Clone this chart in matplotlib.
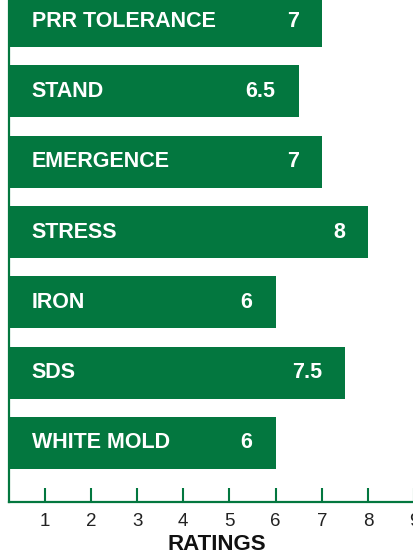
import matplotlib.pyplot as plt

# Ratings data (top to bottom as shown)
traits = ["PRR TOLERANCE", "STAND", "EMERGENCE", "STRESS", "IRON", "SDS", "WHITE MOLD"]
ratings = [7, 6.5, 7, 8, 6, 7.5, 6]
value_labels = ["7", "6.5", "7", "8", "6", "7.5", "6"]
ticks = [1, 2, 3, 4, 5, 6, 7, 8, 9]

green = "#03773F"
plt.rcParams['font.family'] = ['Liberation Sans', 'DejaVu Sans']

fig = plt.figure(figsize=(4.14, 5.54), dpi=100)
ax = fig.add_axes([9 / 414, 52 / 554, 1.001, 502 / 554])

# bottom bar is y=0
ypos = list(range(len(traits)))[::-1]
ax.barh(ypos, ratings, height=0.74, color=green, left=0)

for y, name, val, lab in zip(ypos, traits, ratings, value_labels):
    ax.text(0.72, y, name, color="white", fontsize=15.5, fontweight="bold",
            va="center", ha="left")
    ax.text(val - 0.5, y, lab, color="white", fontsize=15.5, fontweight="bold",
            va="center", ha="right")

ax.set_xlim(0.227, 9.2)
ax.set_ylim(-0.84, 6.3)
ax.set_yticks([])
ax.set_xticks(ticks)
ax.set_xticklabels([str(t) for t in ticks])
ax.tick_params(axis="x", direction="in", length=10, width=1.5, color=green,
               labelsize=13.5, labelcolor="#222222", pad=8)

for s in ["top", "right"]:
    ax.spines[s].set_visible(False)
for s in ["left", "bottom"]:
    ax.spines[s].set_color(green)
    ax.spines[s].set_linewidth(1.6)

fig.text(217 / 414, 1 - 545 / 554, "RATINGS", fontsize=16, fontweight="bold",
         color="#111111", ha="center", va="center")

fig.savefig("out.png", dpi=100)
